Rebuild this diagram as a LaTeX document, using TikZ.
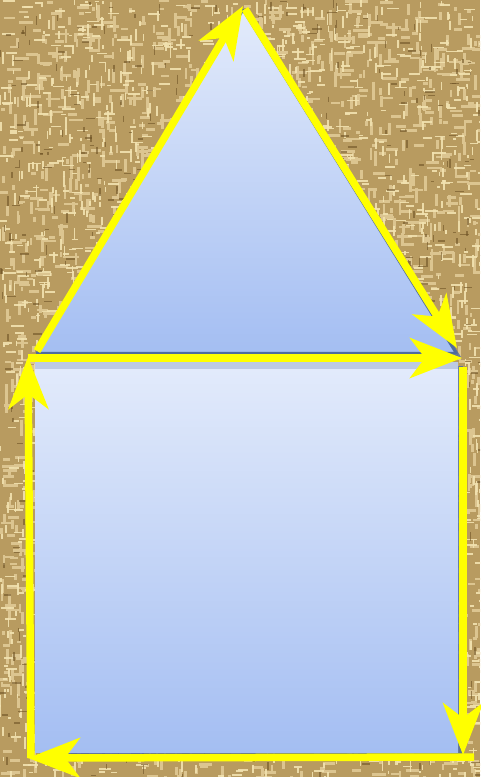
\documentclass[tikz,border=0pt]{standalone}
\usetikzlibrary{arrows.meta}
\definecolor{burlap}{HTML}{B89B60}
\definecolor{burlapL}{HTML}{F2E2B0}
\definecolor{burlapM}{HTML}{DCC590}
\definecolor{burlapD}{HTML}{6E5224}
\definecolor{skyT}{HTML}{E3EBFB}
\definecolor{skyB}{HTML}{A4BEF2}
\definecolor{shadeblue}{HTML}{4F6B9E}
\definecolor{arrowY}{HTML}{FFFF00}
\begin{document}
\begin{tikzpicture}[x=1pt,y=-1pt,
  edge/.style={draw=arrowY, line width=7.5pt, -{Stealth[length=52pt,width=40pt,inset=15pt]}}]
\useasboundingbox (0,0) rectangle (480,777);
% burlap background
\fill[burlap] (0,0) rectangle (480,777);
\begin{scope}
\clip (0,0) rectangle (480,777);
\pgfmathsetseed{11}
\foreach \i in {1,...,2600}{
  \pgfmathsetmacro{\xx}{rnd*480}
  \pgfmathsetmacro{\yy}{rnd*777}
  \pgfmathsetmacro{\ll}{4+rnd*12}
  \ifodd\i
    \draw[burlapM, line width=2.8pt] (\xx,\yy) -- ++(\ll,0);
  \else
    \draw[burlapM, line width=2.8pt] (\xx,\yy) -- ++(0,\ll);
  \fi
}
\foreach \i in {1,...,2600}{
  \pgfmathsetmacro{\xx}{rnd*480}
  \pgfmathsetmacro{\yy}{rnd*777}
  \pgfmathsetmacro{\ll}{3+rnd*10}
  \ifodd\i
    \draw[burlapL, line width=1.7pt, opacity=0.9] (\xx,\yy) -- ++(\ll,0);
  \else
    \draw[burlapL, line width=1.7pt, opacity=0.9] (\xx,\yy) -- ++(0,\ll);
  \fi
}
\foreach \i in {1,...,700}{
  \pgfmathsetmacro{\xx}{rnd*480}
  \pgfmathsetmacro{\yy}{rnd*777}
  \pgfmathsetmacro{\ll}{3+rnd*7}
  \ifodd\i
    \draw[burlapD, line width=1.4pt, opacity=0.6] (\xx,\yy) -- ++(\ll,0);
  \else
    \draw[burlapD, line width=1.4pt, opacity=0.6] (\xx,\yy) -- ++(0,\ll);
  \fi
}
\end{scope}
% corner coordinates
\coordinate (apex) at (243,10);
\coordinate (tbl) at (37,353);
\coordinate (tbr) at (456,353);
% roof
\fill[shadeblue, opacity=0.8] (247,14) -- (461,357) -- (40,357) -- cycle;
\shade[top color=skyT, bottom color=skyB, draw=shadeblue, line width=2.5pt, line join=round]
  (apex) -- (tbr) -- (tbl) -- cycle;
% walls
\fill[shadeblue, opacity=0.85] (39,366) rectangle (463,761);
\shade[top color=skyT, bottom color=skyB] (35,362) rectangle (458,752);
\fill[shadeblue, opacity=0.25] (35,362) rectangle (458,369);
% arrow end points
\coordinate (a1s) at (37,351);
\coordinate (a1e) at (243,6);
\coordinate (a2s) at (245,9);
\coordinate (a2e) at (457,348);
\coordinate (a3s) at (28,358);
\coordinate (a3e) at (462,358);
\coordinate (a4s) at (463,367);
\coordinate (a4e) at (463,755);
\coordinate (a5s) at (474,757);
\coordinate (a5e) at (28,758);
\coordinate (a6s) at (31,758);
\coordinate (a6e) at (28,357);
\draw[edge] (a1s) -- (a1e);
\draw[edge] (a2s) -- (a2e);
\draw[edge] (a3s) -- (a3e);
\draw[edge] (a4s) -- (a4e);
\draw[edge] (a5s) -- (a5e);
\draw[edge] (a6s) -- (a6e);
\end{tikzpicture}
\end{document}
